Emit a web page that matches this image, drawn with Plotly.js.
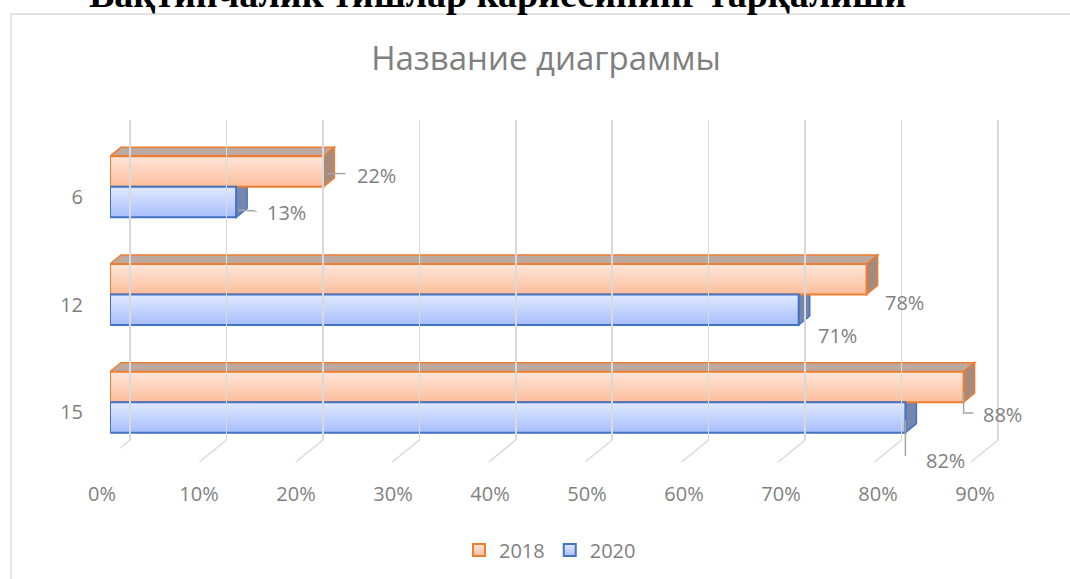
<!DOCTYPE html>
<html><head><meta charset="utf-8">
<script src="https://cdn.plot.ly/plotly-3.0.1.min.js"></script>
<style>html,body{margin:0;padding:0;background:#fff}#chart{width:1070px;height:579px}</style>
</head><body><div id="chart"></div>
<script>
// ---- data ----
const categories = ["15", "12", "6"];          // bottom to top
const seriesNames = ["2018", "2020"];
const values2018 = [88, 78, 22];
const values2020 = [82, 71, 13];
const tickValues = [0, 10, 20, 30, 40, 50, 60, 70, 80, 90];
const tickLabels = ["0%", "10%", "20%", "30%", "40%", "50%", "60%", "70%", "80%", "90%"];
const pageHeading = "Вақтинчалик тишлар кариесининг тарқалиши";
const chartTitle = "Название диаграммы";

// ---- geometry / style ----
const W = 1070, H = 579;
const FX0 = 110, FX1 = 983;     // front x pixels for 0 and 90
const BX0 = 130, BX1 = 998;     // back wall x pixels for 0 and 90
const FY_TOP = 133, FY_BOT = 456;
const GY_TOP = 120, GY_BOT = 440, FLOOR_Y = 462, FLOOR_DX = 27;
const XMAX = 90;
const kx = XMAX / (FX1 - FX0);
const kbx = XMAX / (BX1 - BX0);
const ky = categories.length / (FY_BOT - FY_TOP);
const bw = 30.5 * ky;
const dxu = 11 * kx, dyu = 9 * ky;
const positions = categories.map((c, i) => i);
const gray = "#7f7f7f";
const grid = "#d9d9d9";
const FONT = "Open Sans, sans-serif";

const orange = {fill: "#fcd1b8", line: "#ed7d31", top: "#bcaaa0", side: "#a68b7d", g0: "#fee6da", g1: "#fbbd9b"};
const blue = {fill: "#c4d4fb", line: "#4472c4", side: "#7587ad", g0: "#e0e9ff", g1: "#a6befb"};

// label offsets (px from bar end / bar centre), leader polyline in px
const labelStyle2018 = [
  {dx: 39, dy: 28, leader: [[0, 5], [0, 26], [10, 26]]},
  {dx: 38, dy: 23, leader: null},
  {dx: 53, dy: 4, leader: [[4, 2], [22, 2]]}
];
const labelStyle2020 = [
  {dx: 40, dy: 43, leader: [[0, 3], [0, 40], [12, 40]]},
  {dx: 39, dy: 26, leader: null},
  {dx: 50, dy: 10, leader: [[2, 8], [21, 9]]}
];

const traces = [
  {type: "bar", orientation: "h", name: seriesNames[0], x: values2018, y: positions,
   base: 0, offset: 0, width: bw,
   marker: {color: orange.fill, line: {color: orange.line, width: 2}},
   hoverinfo: "x+name"},
  {type: "bar", orientation: "h", name: seriesNames[1], x: values2020, y: positions,
   base: 0, offset: -bw, width: bw,
   marker: {color: blue.fill, line: {color: blue.line, width: 2}},
   hoverinfo: "x+name"},
  {type: "scatter", x: [], y: [], xaxis: "x2", yaxis: "y2", showlegend: false, hoverinfo: "skip"}
];

const shapes = [];
// frame
shapes.push({type: "rect", xref: "paper", yref: "paper", x0: 11 / W, x1: 1.02, y0: -0.02, y1: 1 - 14 / H,
  line: {color: grid, width: 1.3}, fillcolor: "rgba(0,0,0,0)", layer: "below"});
// floor lines
tickValues.forEach(v => {
  shapes.push({type: "line", xref: "x2", yref: "paper", x0: v, x1: v - FLOOR_DX * kbx,
    y0: 1 - GY_BOT / H, y1: 1 - FLOOR_Y / H, line: {color: grid, width: 1.5}, layer: "below"});
});
// 3D faces
positions.forEach((p, i) => {
  const vo = values2018[i], vb = values2020[i];
  const oTop = p + bw, oBot = p;
  const bTop = p, bBot = p - bw;
  shapes.push({type: "path", xref: "x", yref: "y", layer: "below",
    path: `M0,${oTop} L${vo},${oTop} L${vo + dxu},${oTop + dyu} L${dxu},${oTop + dyu} Z`,
    fillcolor: orange.top, line: {color: orange.line, width: 1.5}});
  shapes.push({type: "path", xref: "x", yref: "y", layer: "below",
    path: `M${vo},${oTop} L${vo + dxu},${oTop + dyu} L${vo + dxu},${oBot + dyu} L${vo},${oBot} Z`,
    fillcolor: orange.side, line: {color: orange.line, width: 1.5}});
  shapes.push({type: "path", xref: "x", yref: "y", layer: "below",
    path: `M${vb},${bTop} L${vb + dxu},${bTop + dyu} L${vb + dxu},${bBot + dyu} L${vb},${bBot} Z`,
    fillcolor: blue.side, line: {color: blue.line, width: 1.5}});
});

const annotations = [];
function addLabels(values, styles, centerOff) {
  values.forEach((v, i) => {
    const st = styles[i];
    const cy = positions[i] + centerOff;
    annotations.push({x: v, y: cy, xref: "x", yref: "y", text: v + "%", showarrow: false,
      xshift: st.dx, yshift: -st.dy, font: {family: FONT, size: 20, color: gray}});
    if (st.leader) {
      const d = st.leader.map((pt, j) => (j ? "L" : "M") + (v + pt[0] * kx) + "," + (cy - pt[1] * ky)).join(" ");
      shapes.push({type: "path", xref: "x", yref: "y", path: d, layer: "above",
        line: {color: "#a6a6a6", width: 1.5}, fillcolor: "rgba(0,0,0,0)"});
    }
  });
}
addLabels(values2018, labelStyle2018, bw / 2);
addLabels(values2020, labelStyle2020, -bw / 2);

// cut-off heading at the very top of the page (as in the reference)
annotations.push({xref: "paper", yref: "paper", x: 497 / W, y: 1 + 6 / H, xanchor: "center", yanchor: "middle",
  text: "<b>" + pageHeading + "</b>", showarrow: false,
  font: {family: "Liberation Serif, Times New Roman, serif", size: 38, color: "#000"}});

const layout = {
  width: W, height: H,
  margin: {l: 0, r: 0, t: 0, b: 0, pad: 0},
  paper_bgcolor: "#fff", plot_bgcolor: "rgba(0,0,0,0)",
  barmode: "overlay",
  showlegend: true,
  font: {family: FONT, color: gray, size: 20},
  title: {text: chartTitle, x: 546 / W, xanchor: "center", y: 1 - 58 / H, yanchor: "middle", yref: "container",
    font: {family: FONT, size: 33, color: gray}},
  xaxis: {domain: [FX0 / W, FX1 / W], range: [0, XMAX], anchor: "y",
    showgrid: false, zeroline: false, showline: false,
    tickmode: "array", tickvals: tickValues, ticktext: tickLabels,
    ticks: "", ticklabelstandoff: 24, ticklabelshift: -8,
    tickfont: {family: FONT, size: 20, color: gray}, fixedrange: true},
  yaxis: {domain: [1 - FY_BOT / H, 1 - FY_TOP / H], range: [-0.5, categories.length - 0.5], anchor: "x",
    showgrid: false, zeroline: false, showline: false,
    tickmode: "array", tickvals: positions, ticktext: categories,
    ticks: "", ticklabelstandoff: 26, ticklabelshift: 10,
    tickfont: {family: FONT, size: 20, color: gray}, fixedrange: true},
  xaxis2: {domain: [(BX0 - 1 / kbx) / W, (BX1 + 1 / kbx) / W], range: [-1, XMAX + 1], anchor: "y2",
    showgrid: true, gridcolor: grid, gridwidth: 1.6, zeroline: false, showline: false,
    tickmode: "array", tickvals: tickValues, showticklabels: false, ticks: "", fixedrange: true},
  yaxis2: {domain: [1 - GY_BOT / H, 1 - GY_TOP / H], range: [0, 1], anchor: "x2",
    visible: false, showgrid: false, zeroline: false, fixedrange: true},
  legend: {orientation: "h", x: 550 / W, xanchor: "center", y: 1 - 550 / H, yanchor: "middle",
    font: {family: FONT, size: 20, color: gray}, bgcolor: "rgba(0,0,0,0)", itemclick: false},
  shapes: shapes,
  annotations: annotations
};

Plotly.newPlot("chart", traces, layout, {displayModeBar: false, staticPlot: true}).then(gd => {
  // vertical gradient fill on the bar fronts and legend swatches, like the reference
  const svg = gd.querySelector(".main-svg");
  const NS = "http://www.w3.org/2000/svg";
  let defs = svg.querySelector("defs");
  if (!defs) { defs = document.createElementNS(NS, "defs"); svg.insertBefore(defs, svg.firstChild); }
  function grad(id, c0, c1) {
    const g = document.createElementNS(NS, "linearGradient");
    g.setAttribute("id", id); g.setAttribute("x1", "0"); g.setAttribute("y1", "0");
    g.setAttribute("x2", "0"); g.setAttribute("y2", "1");
    [[0, c0], [1, c1]].forEach(([o, c]) => {
      const s = document.createElementNS(NS, "stop");
      s.setAttribute("offset", o); s.setAttribute("stop-color", c); g.appendChild(s);
    });
    defs.appendChild(g);
  }
  grad("gradO", orange.g0, orange.g1);
  grad("gradB", blue.g0, blue.g1);
  const ids = ["gradO", "gradB"];
  gd.querySelectorAll(".barlayer .trace").forEach((t, i) => {
    t.querySelectorAll("path").forEach(p => { p.style.fill = "url(#" + ids[i] + ")"; });
  });
  gd.querySelectorAll(".legend .traces").forEach((t, i) => {
    t.querySelectorAll(".legendpoints path").forEach(p => { p.style.fill = "url(#" + ids[i] + ")"; });
  });
});
</script>
</body></html>
